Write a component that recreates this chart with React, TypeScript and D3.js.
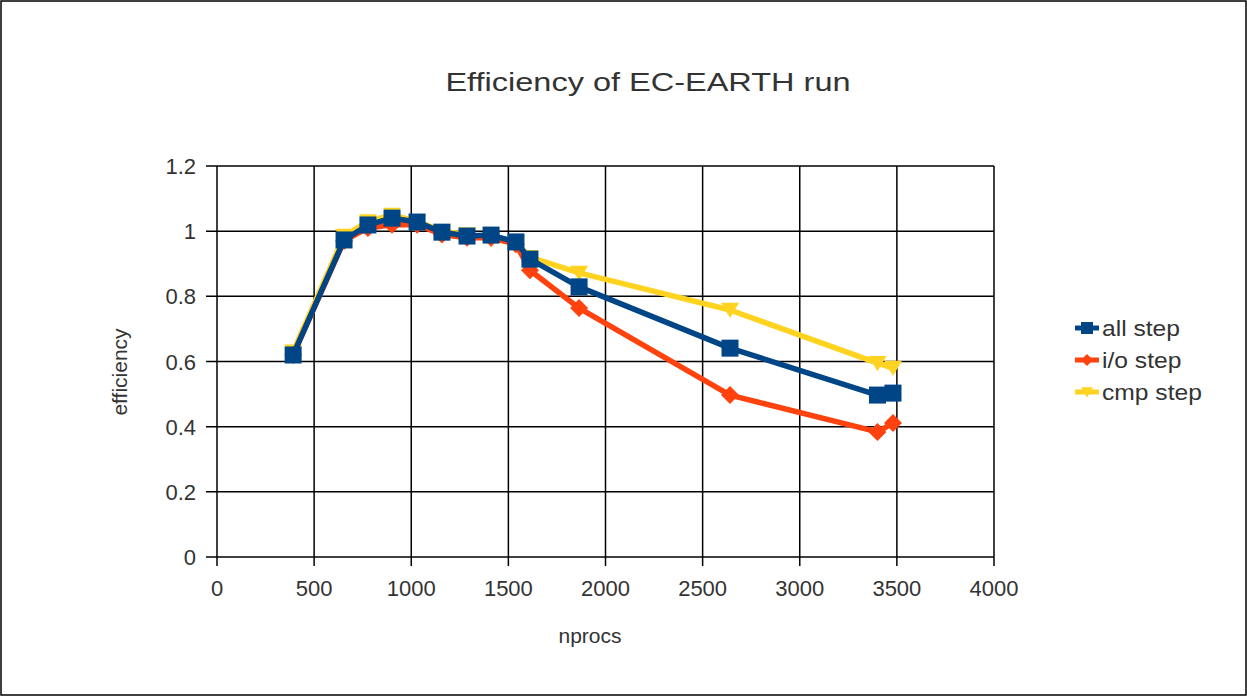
import React from "react";
import * as d3 from "d3";

const nprocs = [392, 654, 777, 901, 1030, 1158, 1287, 1411, 1539, 1611, 1864, 2641, 3400, 3480];
const allStep = [0.62, 0.973, 1.019, 1.04, 1.028, 0.997, 0.985, 0.988, 0.967, 0.914, 0.829, 0.641, 0.497, 0.503];
const ioStep = [0.62, 0.97, 1.01, 1.02, 1.02, 0.99, 0.98, 0.98, 0.96, 0.88, 0.764, 0.497, 0.384, 0.411];
const cmpStep = [0.63, 0.985, 1.03, 1.05, 1.03, 1.0, 0.99, 0.975, 0.965, 0.92, 0.872, 0.758, 0.595, 0.58];
const xTicks = [0, 500, 1000, 1500, 2000, 2500, 3000, 3500, 4000];
const yTicks = [0, 0.2, 0.4, 0.6, 0.8, 1, 1.2];
const seriesNames = ["all step", "i/o step", "cmp step"];
const seriesColors = ["#004586", "#ff420e", "#ffd320"];

const W = 1247, H = 696;
const left = 217, right = 994, top = 166, bottom = 557;

export default function App() {
  const x = d3.scaleLinear().domain([0, 4000]).range([left, right]);
  const y = d3.scaleLinear().domain([0, 1.2]).range([bottom, top]);
  const line = d3.line<[number, number]>().x(d => x(d[0])).y(d => y(d[1]));
  const series = [allStep, ioStep, cmpStep].map((vals, i) => ({
    name: seriesNames[i], color: seriesColors[i],
    pts: nprocs.map((n, j) => [n, vals[j]] as [number, number]),
  }));
  const drawOrder = [2, 1, 0];
  const marker = (si: number, cx: number, cy: number, s: number, key: any) => {
    const c = seriesColors[si];
    if (si === 0) return <rect key={key} x={cx - s} y={cy - s} width={2 * s} height={2 * s} fill={c} />;
    if (si === 1) return <path key={key} d={`M${cx},${cy - s}L${cx + s},${cy}L${cx},${cy + s}L${cx - s},${cy}Z`} fill={c} />;
    return <path key={key} d={`M${cx - s},${cy - s * 0.8}L${cx + s},${cy - s * 0.8}L${cx},${cy + s * 0.9}Z`} fill={c} />;
  };
  const textColor = "#333";
  const font = "'Liberation Sans', Arial, sans-serif";
  const titleSx = 1.25;
  const legSx = 1.12;
  return (
    <svg width={W} height={H} style={{ position: "absolute", left: 0, top: 0, background: "#fff" }} fontFamily={font}>
      <rect x={1} y={1} width={W - 2} height={H - 2} fill="#fff" stroke="#000" strokeWidth={1.5} />
      <text transform={`scale(${titleSx},1)`} x={648 / titleSx} y={91} textAnchor="middle" fontSize={26} fill={textColor}>Efficiency of EC-EARTH run</text>
      {yTicks.map(t => (
        <g key={"y" + t}>
          <line x1={left - 11} x2={right} y1={y(t)} y2={y(t)} stroke="#000" strokeWidth={1.5} />
          <text x={196} y={y(t) + 8} textAnchor="end" fontSize={22} fill={textColor}>{String(t)}</text>
        </g>
      ))}
      {xTicks.map(t => (
        <g key={"x" + t}>
          <line x1={x(t)} x2={x(t)} y1={top} y2={bottom + 9} stroke="#000" strokeWidth={1.5} />
          <text x={x(t)} y={bottom + 39} textAnchor="middle" fontSize={22} fill={textColor}>{String(t)}</text>
        </g>
      ))}
      <text x={590} y={643} textAnchor="middle" fontSize={21} fill={textColor}>nprocs</text>
      <text transform={`translate(127,372) rotate(-90)`} textAnchor="middle" fontSize={21} fill={textColor}>efficiency</text>
      {drawOrder.map(si => (
        <g key={"s" + si}>
          <path d={line(series[si].pts) || ""} fill="none" stroke={series[si].color} strokeWidth={5.5} strokeLinejoin="round" />
          {series[si].pts.map((p, j) => marker(si, x(p[0]), y(p[1]), si === 0 ? 8.5 : 9, j))}
        </g>
      ))}
      {series.map((s, i) => {
        const ly = 328 + i * 32;
        return (
          <g key={"l" + i}>
            <line x1={1075} x2={1099} y1={ly} y2={ly} stroke={s.color} strokeWidth={5} />
            {marker(i, 1087, ly, 6, "m")}
            <text transform={`scale(${legSx},1)`} x={1102 / legSx} y={ly + 8} fontSize={22} fill={textColor}>{s.name}</text>
          </g>
        );
      })}
    </svg>
  );
}
